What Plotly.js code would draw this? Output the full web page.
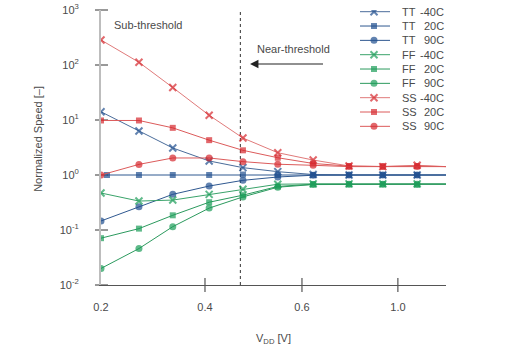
<!DOCTYPE html>
<html><head><meta charset="utf-8">
<script src="https://cdn.plot.ly/plotly-3.0.1.min.js"></script>
<style>html,body{margin:0;padding:0;background:#fff}#chart{width:525px;height:350px}</style>
</head><body><div id="chart"></div>
<script>
// VDD positions as read off the (non-uniform) axis; last entry = line end at the axis edge
const vdd = [0.2, 0.273, 0.338, 0.408, 0.473, 0.540, 0.608, 0.677, 0.742, 0.808, 0.8635];
const vddTT20 = [0.2115, 0.273, 0.338, 0.408, 0.473, 0.540, 0.608, 0.677, 0.742, 0.808, 0.8635];
const xTickVals = [0.2, 0.4, 0.5865, 0.771];
const xTickText = ['0.2', '0.4', '0.6', '1.0'];
const yTickVals = [0.01, 0.1, 1, 10, 100, 1000];
const yTickText = ['10<sup>-2</sup>', '10<sup>-1</sup>', '10<sup>0</sup>', '10<sup>1</sup>', '10<sup>2</sup>', '10<sup>3</sup>'];
const boundary = 0.468;

const corners = ['TT', 'TT', 'TT', 'FF', 'FF', 'FF', 'SS', 'SS', 'SS'];
const temps = ['-40C', '20C', '90C', '-40C', '20C', '90C', '-40C', '20C', '90C'];

const tt_m40 = [14.1, 6.3, 3.1, 1.8, 1.36, 1.15, 1.02, 1.0, 1.0, 1.0, 1.0];
const tt_20  = [1.0, 1.0, 1.0, 1.0, 1.02, 1.0, 1.0, 1.0, 1.0, 1.0, 1.0];
const tt_90  = [0.146, 0.265, 0.445, 0.63, 0.80, 0.92, 0.99, 1.0, 1.0, 1.0, 1.0];
const ff_m40 = [0.47, 0.336, 0.35, 0.445, 0.55, 0.68, 0.69, 0.69, 0.69, 0.69, 0.69];
const ff_20  = [0.071, 0.106, 0.185, 0.32, 0.43, 0.62, 0.68, 0.68, 0.68, 0.67, 0.68];
const ff_90  = [0.020, 0.046, 0.115, 0.25, 0.40, 0.60, 0.67, 0.68, 0.68, 0.68, 0.68];
const ss_m40 = [285, 112, 39, 12.2, 4.7, 2.54, 1.87, 1.46, 1.42, 1.5, 1.42];
const ss_20  = [9.8, 9.8, 7.2, 4.3, 2.81, 2.06, 1.62, 1.45, 1.43, 1.45, 1.42];
const ss_90  = [1.0, 1.56, 2.04, 2.04, 1.75, 1.57, 1.5, 1.42, 1.42, 1.42, 1.42];

const series = [tt_m40, tt_20, tt_90, ff_m40, ff_20, ff_90, ss_m40, ss_20, ss_90];
const xs = [vdd, vddTT20, vdd, vdd, vdd, vdd, vdd, vdd, vdd];
const blue = '#1f4e8e', green = '#1b9d58', red = '#d6282e';
const colors = [blue, blue, blue, green, green, green, red, red, red];
const lineColors = ['#4a6c9a', '#2f5890', '#2f5890', '#3aa36a', '#2c9a5e', '#2c9a5e', '#e07a7a', '#dc5b5b', '#dc5b5b'];
const symbols = ['x-thin-open', 'square', 'circle', 'x-thin-open', 'square', 'circle', 'x-thin-open', 'square', 'circle'];
const sizes = [7, 6, 7, 7, 6, 7, 7, 6, 7];

const traces = [];
series.forEach((ys, i) => {
  const msize = ys.map((_, j) => j === ys.length - 1 ? 0 : sizes[i]);
  traces.push({
    x: xs[i], y: ys, type: 'scatter', mode: 'lines+markers', showlegend: false, hoverinfo: 'skip',
    line: {color: lineColors[i], width: 1},
    marker: {symbol: symbols[i], size: msize, color: colors[i], line: {color: colors[i], width: symbols[i].startsWith('x') ? 2 : 0}}
  });
});

// custom compact legend on overlaying pixel-unit axes
const legTop = 11.7, legStep = 14.33;
const glyphX = [360, 374, 390];
corners.forEach((c, i) => {
  const yy = legTop + legStep * i;
  traces.push({
    x: glyphX, y: glyphX.map(() => yy), xaxis: 'x2', yaxis: 'y2', type: 'scatter', mode: 'lines+markers',
    showlegend: false, hoverinfo: 'skip',
    line: {color: lineColors[i], width: 1},
    marker: {symbol: symbols[i], size: [0, sizes[i], 0], color: colors[i], line: {color: colors[i], width: symbols[i].startsWith('x') ? 2 : 0}}
  });
});

const textColor = '#4a4a4a';
const annotations = [];
corners.forEach((c, i) => {
  const yy = legTop + legStep * i;
  annotations.push({xref: 'x2', yref: 'y2', x: 400, y: yy, text: c, showarrow: false, xanchor: 'left', yanchor: 'middle', font: {size: 11, color: textColor}});
  annotations.push({xref: 'x2', yref: 'y2', x: 446, y: yy, text: temps[i], showarrow: false, xanchor: 'right', yanchor: 'middle', font: {size: 11, color: textColor}});
});
annotations.push({xref: 'paper', yref: 'paper', x: 0.032, y: 0.945, text: 'Sub-threshold', showarrow: false, xanchor: 'left', yanchor: 'middle', font: {size: 11, color: textColor}});
annotations.push({xref: 'paper', yref: 'paper', x: 0.446, y: 0.858, text: 'Near-threshold', showarrow: false, xanchor: 'left', yanchor: 'middle', font: {size: 11, color: textColor}});
annotations.push({xref: 'paper', yref: 'paper', x: 0.432, y: 0.8036, ax: 76, ay: 0, text: ' ', showarrow: true, arrowhead: 2, arrowsize: 1.4, arrowwidth: 1.2, arrowcolor: '#222'});
annotations.push({xref: 'paper', yref: 'paper', x: -0.183, y: 0.531, text: 'Normalized Speed [–]', textangle: -90, showarrow: false, xanchor: 'center', yanchor: 'middle', font: {size: 11, color: textColor}});
annotations.push({xref: 'paper', yref: 'paper', x: 0.5, y: -0.196, text: 'V<sub>DD</sub> [V]', showarrow: false, xanchor: 'center', yanchor: 'middle', font: {size: 11, color: textColor}});

const shapes = [];
yTickVals.forEach(v => {
  const py = (Math.log10(v) + 2) / 5;
  shapes.push({type: 'line', xref: 'paper', yref: 'paper', x0: -0.0174, x1: 0.0203, y0: py, y1: py, line: {color: '#333', width: 1}, layer: 'below'});
});
xTickVals.slice(1).forEach(v => {
  shapes.push({type: 'line', xref: 'x', yref: 'paper', x0: v, x1: v, y0: -0.0255, y1: 0.0255, line: {color: '#333', width: 1}, layer: 'below'});
});
shapes.push({type: 'line', xref: 'x', yref: 'paper', x0: boundary, x1: boundary, y0: 0, y1: 1, line: {color: '#333', width: 1, dash: '3px,3px'}, layer: 'below'});

const layout = {
  width: 525, height: 350,
  margin: {l: 101, r: 79, t: 10, b: 65},
  paper_bgcolor: '#fff', plot_bgcolor: '#fff',
  font: {family: 'Liberation Sans, Arial, sans-serif', size: 11, color: textColor},
  showlegend: false,
  xaxis: {range: [0.2, 0.8635], showgrid: false, zeroline: false, showline: true, linecolor: '#555', linewidth: 1,
          tickmode: 'array', tickvals: xTickVals, ticktext: xTickText, ticks: '', ticklabelstandoff: 12,
          tickfont: {size: 11, color: textColor}},
  yaxis: {type: 'log', range: [-2, 3], showgrid: false, zeroline: false, showline: true, linecolor: '#bdbdbd', linewidth: 2,
          tickmode: 'array', tickvals: yTickVals, ticktext: yTickText, ticks: '', ticklabelstandoff: 18,
          tickfont: {size: 11, color: textColor}},
  xaxis2: {overlaying: 'x', range: [101, 446], visible: false, showgrid: false, zeroline: false, fixedrange: true},
  yaxis2: {overlaying: 'y', range: [285, 10], visible: false, showgrid: false, zeroline: false, fixedrange: true},
  shapes: shapes,
  annotations: annotations
};
Plotly.newPlot('chart', traces, layout, {staticPlot: true, displayModeBar: false});
</script></body></html>
